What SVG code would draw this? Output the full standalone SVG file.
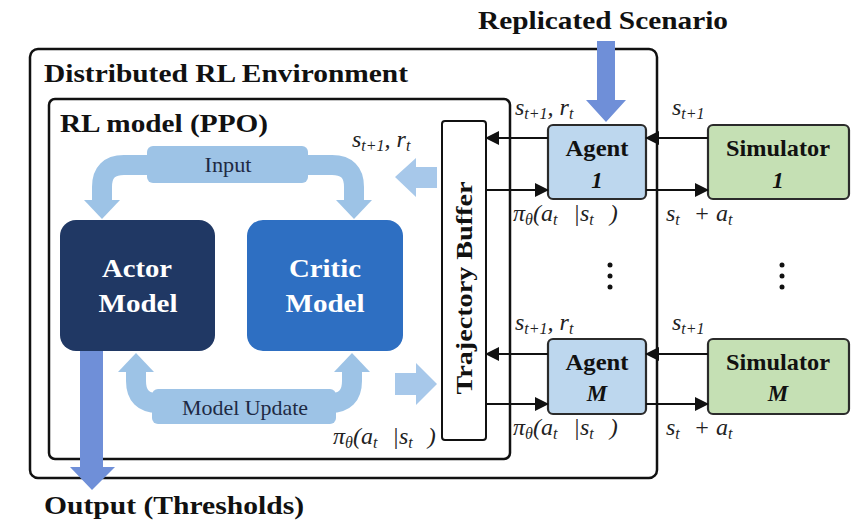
<svg xmlns="http://www.w3.org/2000/svg" width="851" height="523" viewBox="0 0 851 523">
<style>
.frame{fill:none;stroke:#111;stroke-width:2.5}
.title{font-family:"Liberation Serif","Times New Roman",serif;font-weight:bold;fill:#111}
.wt{font-family:"Liberation Serif","Times New Roman",serif;font-weight:bold;fill:#fff;font-size:26px}
.nt{font-family:"Liberation Serif","Times New Roman",serif;font-weight:bold;fill:#111;font-size:23px}
.bar{font-family:"Liberation Serif","Times New Roman",serif;fill:#1e2a44;font-size:21px}
.m{font-family:"Liberation Serif","DejaVu Serif",serif;font-style:italic;fill:#222;font-size:24px}
.sub{font-size:16px}
.band{fill:none;stroke:#9dc3e6;stroke-width:20}
.lb{fill:#9dc3e6}
.bk{fill:#a7c8ea}
.big{fill:#6f8fd8}
.ln{stroke:#111;stroke-width:2;fill:none;marker-end:url(#ah)}
.agent{fill:#bdd7ee;stroke:#2b2b2b;stroke-width:2.2}
.sim{fill:#c5e0b4;stroke:#2b2b2b;stroke-width:2.2}
</style>
<defs>
<marker id="ah" markerUnits="userSpaceOnUse" markerWidth="14" markerHeight="14" refX="13" refY="7" orient="auto">
<path d="M0,0 L14,7 L0,14 z" fill="#111"/>
</marker>
</defs>
<rect width="851" height="523" fill="#fff"/>

<g id="environment">
<rect class="frame" x="30" y="49" width="627" height="429" rx="8"/>
<text class="title" x="44" y="82" font-size="26" textLength="364" lengthAdjust="spacingAndGlyphs">Distributed RL Environment</text>
</g>

<g id="rl-model">
<rect class="frame" x="49" y="99" width="461" height="360" rx="6"/>
<text class="title" x="60" y="132" font-size="25" textLength="208" lengthAdjust="spacingAndGlyphs">RL model (PPO)</text>
</g>

<g id="input">
<path class="band" d="M102,202 V187 Q102,165 124,165 H332 Q354,165 354,187 V202"/>
<polygon class="lb" points="84,200 120,200 102,219"/>
<polygon class="lb" points="336,200 372,200 354,219"/>
<rect class="lb" x="147" y="146" width="161" height="37" rx="6"/>
<text class="bar" x="228" y="172" text-anchor="middle" textLength="47" lengthAdjust="spacingAndGlyphs">Input</text>
</g>

<g id="model-update">
<path class="band" d="M136,370 V381 Q136,403 158,403 H330 Q352,403 352,381 V370"/>
<polygon class="lb" points="118,372 154,372 136,353"/>
<polygon class="lb" points="334,372 370,372 352,353"/>
<rect class="lb" x="152" y="389" width="184" height="35" rx="6"/>
<text class="bar" x="245" y="415" text-anchor="middle" textLength="126" lengthAdjust="spacingAndGlyphs">Model Update</text>
</g>

<g id="actor">
<rect x="60" y="220" width="155" height="131" rx="16" fill="#203864"/>
<text class="wt" x="137" y="277" text-anchor="middle" textLength="70" lengthAdjust="spacingAndGlyphs">Actor</text>
<text class="wt" x="138" y="312" text-anchor="middle" textLength="79" lengthAdjust="spacingAndGlyphs">Model</text>
</g>

<g id="critic">
<rect x="247" y="220" width="156" height="131" rx="16" fill="#2e6fc2"/>
<text class="wt" x="325" y="277" text-anchor="middle" textLength="72" lengthAdjust="spacingAndGlyphs">Critic</text>
<text class="wt" x="325" y="312" text-anchor="middle" textLength="79" lengthAdjust="spacingAndGlyphs">Model</text>
</g>

<g id="trajectory-buffer">
<rect x="442" y="121" width="44" height="319" rx="3" fill="#fff" stroke="#111" stroke-width="2"/>
<text class="nt" transform="translate(472,288) rotate(-90)" text-anchor="middle" textLength="213" lengthAdjust="spacingAndGlyphs">Trajectory Buffer</text>
</g>

<g id="agent-1">
<rect class="agent" x="548" y="125" width="98" height="74" rx="5"/>
<text class="nt" x="597" y="156" text-anchor="middle" textLength="63" lengthAdjust="spacingAndGlyphs">Agent</text>
<text class="nt" x="597" y="188" text-anchor="middle" font-style="italic" font-size="25">1</text>
</g>

<g id="simulator-1">
<rect class="sim" x="708" y="125" width="141" height="74" rx="5"/>
<text class="nt" x="778" y="156" text-anchor="middle" textLength="104" lengthAdjust="spacingAndGlyphs">Simulator</text>
<text class="nt" x="778" y="188" text-anchor="middle" font-style="italic" font-size="25">1</text>
</g>

<g id="agent-m">
<rect class="agent" x="548" y="339" width="98" height="75" rx="5"/>
<text class="nt" x="597" y="370" text-anchor="middle" textLength="63" lengthAdjust="spacingAndGlyphs">Agent</text>
<text class="nt" x="597" y="401" text-anchor="middle" font-style="italic" font-size="24">M</text>
</g>

<g id="simulator-m">
<rect class="sim" x="708" y="339" width="141" height="75" rx="5"/>
<text class="nt" x="778" y="370" text-anchor="middle" textLength="104" lengthAdjust="spacingAndGlyphs">Simulator</text>
<text class="nt" x="778" y="401" text-anchor="middle" font-style="italic" font-size="24">M</text>
</g>

<g id="ellipsis">
<circle cx="610" cy="265" r="2.5" fill="#111"/>
<circle cx="610" cy="276" r="2.5" fill="#111"/>
<circle cx="610" cy="287" r="2.5" fill="#111"/>
<circle cx="782" cy="265" r="2.5" fill="#111"/>
<circle cx="782" cy="276" r="2.5" fill="#111"/>
<circle cx="782" cy="287" r="2.5" fill="#111"/>
</g>

<g id="connectors">
<line class="ln" x1="548" y1="138" x2="486" y2="138"/>
<line class="ln" x1="486" y1="190" x2="548" y2="190"/>
<line class="ln" x1="708" y1="138" x2="646" y2="138"/>
<line class="ln" x1="646" y1="190" x2="708" y2="190"/>
<line class="ln" x1="548" y1="354" x2="486" y2="354"/>
<line class="ln" x1="486" y1="404" x2="548" y2="404"/>
<line class="ln" x1="708" y1="354" x2="646" y2="354"/>
<line class="ln" x1="646" y1="404" x2="708" y2="404"/>
<polygon class="bk" points="395,177 416,158 416,167 437,167 437,188 416,188 416,197"/>
<polygon class="bk" points="437,384 416,363 416,373 395,373 395,395 416,395 416,405"/>
<polygon class="big" points="597,41 615,41 615,100 626,100 606,122 586,100 597,100"/>
<polygon class="big" points="80,351 103,351 103,467 115,467 92,490 70,467 80,467"/>
</g>

<g id="labels">
<text class="title" x="478" y="29" font-size="25" textLength="250" lengthAdjust="spacingAndGlyphs">Replicated Scenario</text>
<text class="title" x="44" y="514" font-size="25" textLength="260" lengthAdjust="spacingAndGlyphs">Output (Thresholds)</text>

<text class="m" x="352" y="147">s<tspan class="sub" dy="4">t+1</tspan><tspan dy="-4">, r</tspan><tspan class="sub" dy="4">t</tspan></text>
<text class="m" x="333" y="444">π<tspan class="sub" dy="4">θ</tspan><tspan dy="-4">(a</tspan><tspan class="sub" dy="4">t</tspan><tspan dy="-4" dx="9"> |s</tspan><tspan class="sub" dy="4">t</tspan><tspan dy="-4" dx="9"> )</tspan></text>

<text class="m" x="515" y="115">s<tspan class="sub" dy="4">t+1</tspan><tspan dy="-4">, r</tspan><tspan class="sub" dy="4">t</tspan></text>
<text class="m" x="672" y="115">s<tspan class="sub" dy="4">t+1</tspan></text>
<text class="m" x="513" y="221">π<tspan class="sub" dy="4">θ</tspan><tspan dy="-4">(a</tspan><tspan class="sub" dy="4">t</tspan><tspan dy="-4" dx="10"> |s</tspan><tspan class="sub" dy="4">t</tspan><tspan dy="-4" dx="10"> )</tspan></text>
<text class="m" x="666" y="221">s<tspan class="sub" dy="4">t</tspan><tspan dy="-4" dx="8"> + a</tspan><tspan class="sub" dy="4">t</tspan></text>

<text class="m" x="515" y="330">s<tspan class="sub" dy="4">t+1</tspan><tspan dy="-4">, r</tspan><tspan class="sub" dy="4">t</tspan></text>
<text class="m" x="672" y="330">s<tspan class="sub" dy="4">t+1</tspan></text>
<text class="m" x="513" y="435">π<tspan class="sub" dy="4">θ</tspan><tspan dy="-4">(a</tspan><tspan class="sub" dy="4">t</tspan><tspan dy="-4" dx="10"> |s</tspan><tspan class="sub" dy="4">t</tspan><tspan dy="-4" dx="10"> )</tspan></text>
<text class="m" x="666" y="435">s<tspan class="sub" dy="4">t</tspan><tspan dy="-4" dx="8"> + a</tspan><tspan class="sub" dy="4">t</tspan></text>
</g>
</svg>
